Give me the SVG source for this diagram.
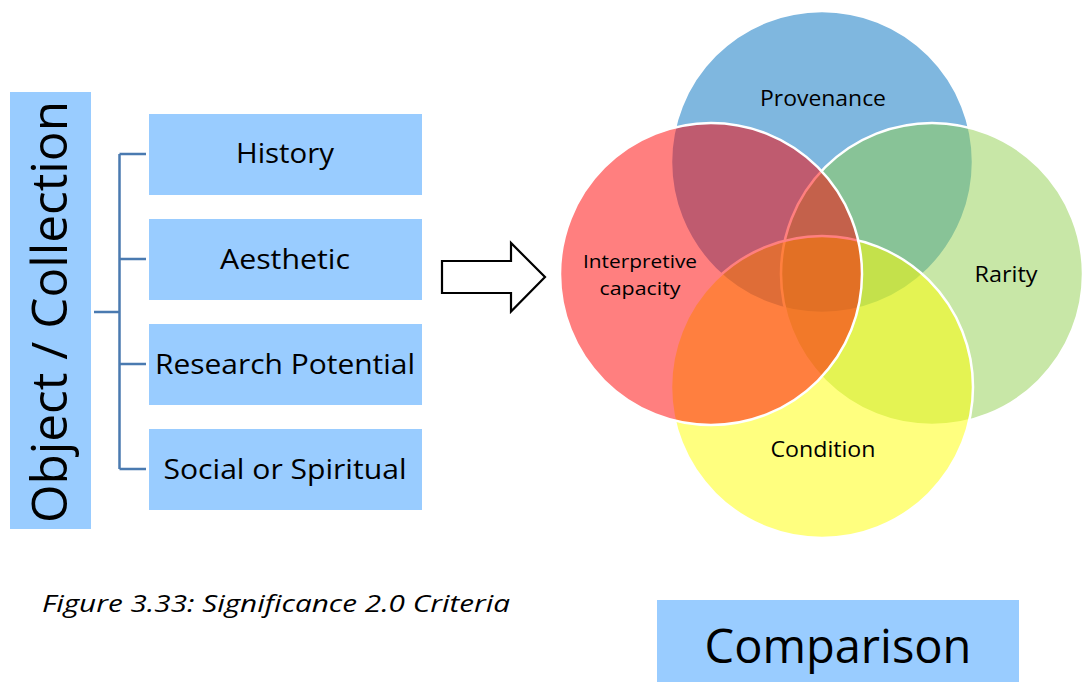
<svg xmlns="http://www.w3.org/2000/svg" width="1084" height="682" viewBox="0 0 1084 682">
<style>
.box{fill:#99ccff;}
.lbl{font-family:"Open Sans","Liberation Sans",sans-serif;fill:#000;text-anchor:middle;}
.c{stroke:#fff;stroke-width:2.5;fill-opacity:0.5;}
.conn{fill:none;stroke:#4a7ab0;stroke-width:2.5;}
</style>
<rect width="1084" height="682" fill="#fff"/>
<g id="object-collection">
<rect class="box" x="10" y="92" width="81" height="437"/>
<text class="lbl" transform="translate(67,312) rotate(-90)" font-size="50" textLength="422" lengthAdjust="spacingAndGlyphs">Object / Collection</text>
</g>
<g id="connectors">
<path class="conn" d="M94,312 H119.5 M119.5,154 V469 M119.5,154 H146 M119.5,259 H146 M119.5,364 H146 M119.5,469 H146"/>
<path d="M442,261 H511 V243 L545,277 L511,311.5 V293 H442 Z" fill="#fff" stroke="#000" stroke-width="2.2"/>
</g>
<g id="history">
<rect class="box" x="149" y="114" width="273" height="81"/>
<text class="lbl" x="285" y="163" font-size="28" textLength="98" lengthAdjust="spacingAndGlyphs">History</text>
</g>
<g id="aesthetic">
<rect class="box" x="149" y="219" width="273" height="81"/>
<text class="lbl" x="285" y="269" font-size="28" textLength="130" lengthAdjust="spacingAndGlyphs">Aesthetic</text>
</g>
<g id="research">
<rect class="box" x="149" y="324" width="273" height="81"/>
<text class="lbl" x="285" y="374" font-size="28" textLength="260" lengthAdjust="spacingAndGlyphs">Research Potential</text>
</g>
<g id="social">
<rect class="box" x="149" y="429" width="273" height="81"/>
<text class="lbl" x="285" y="479" font-size="28" textLength="243" lengthAdjust="spacingAndGlyphs">Social or Spiritual</text>
</g>
<g id="venn">
<circle id="provenance" class="c" cx="822" cy="162" r="151" fill="#0070c0"/>
<circle id="rarity" class="c" cx="932" cy="274" r="151" fill="#92d050" fill-opacity="0.6"/>
<circle id="condition" class="c" cx="822" cy="387" r="151" fill="#ffff00"/>
<circle id="interpretive" class="c" cx="711" cy="274" r="151" fill="#ff0000"/>
<text class="lbl" x="823" y="106" font-size="21" textLength="126" lengthAdjust="spacingAndGlyphs">Provenance</text>
<text class="lbl" x="1006" y="282" font-size="21" textLength="63" lengthAdjust="spacingAndGlyphs">Rarity</text>
<text class="lbl" x="823" y="457" font-size="21" textLength="105" lengthAdjust="spacingAndGlyphs">Condition</text>
<text class="lbl" x="640" y="268" font-size="19" textLength="114" lengthAdjust="spacingAndGlyphs">Interpretive</text>
<text class="lbl" x="640" y="295" font-size="19" textLength="81" lengthAdjust="spacingAndGlyphs">capacity</text>
</g>
<g id="caption">
<text x="42" y="612" font-family="Open Sans, Liberation Sans, sans-serif" font-style="italic" font-size="24" textLength="468" lengthAdjust="spacingAndGlyphs">Figure 3.33: Significance 2.0 Criteria</text>
</g>
<g id="comparison">
<rect class="box" x="657" y="600" width="362" height="82"/>
<text class="lbl" x="838" y="663" font-size="47">Comparison</text>
</g>
</svg>
